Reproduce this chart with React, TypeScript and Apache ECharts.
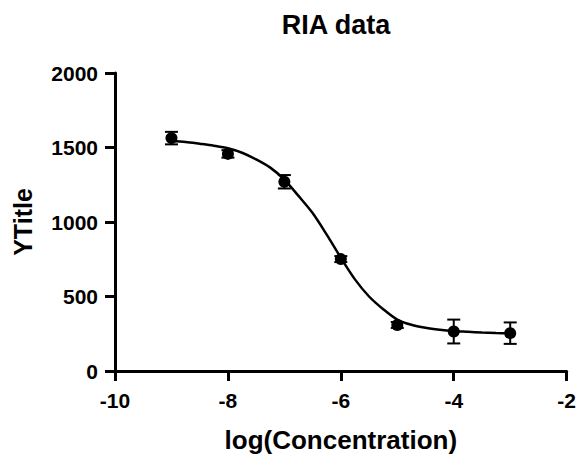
import React, { useEffect, useRef } from "react";
import * as echarts from "echarts";

const pointX = [-9, -8, -7, -6, -5, -4, -3];
const pointY = [1563, 1457, 1270, 751, 309, 265, 254];
const pointErr = [42, 25, 45, 20, 20, 80, 72];

const curveX = [-9, -8.75, -8.5, -8.25, -8, -7.75, -7.5, -7.25, -7, -6.75, -6.5, -6.25, -6, -5.75, -5.5, -5.25, -5, -4.75, -4.5, -4.25, -4, -3.75, -3.5, -3.25, -3];
const curveY = [1543, 1537, 1525, 1512, 1495, 1465, 1420, 1365, 1285, 1175, 1060, 915, 760, 615, 500, 415, 345, 310, 290, 277, 268, 263, 258, 255, 253];

const xTicks = { min: -10, max: -2, interval: 2 };
const yTicks = { min: 0, max: 2000, interval: 500 };

const FONT = "'Liberation Sans', Arial, sans-serif";

export default function App() {
  const ref = useRef<HTMLDivElement>(null);
  useEffect(() => {
    if (!ref.current) return;
    const chart = echarts.init(ref.current, null, { renderer: "svg" });
    const errData = pointX.map((x, i) => [x, pointY[i] - pointErr[i], pointY[i] + pointErr[i]]);
    chart.setOption({
      animation: false,
      backgroundColor: "#fff",
      grid: { left: 115, right: 12, top: 73, bottom: 83 },
      graphic: [
        {
          type: "text",
          x: 336,
          y: 25,
          style: {
            text: "RIA data",
            fontFamily: FONT,
            fontWeight: "bold",
            fontSize: 27,
            fill: "#000",
            textAlign: "center",
            textVerticalAlign: "middle",
          },
        },
      ],
      xAxis: {
        type: "value",
        min: xTicks.min,
        max: xTicks.max,
        interval: xTicks.interval,
        name: "log(Concentration)",
        nameLocation: "middle",
        nameGap: 56,
        nameTextStyle: { fontFamily: FONT, fontWeight: "bold", fontSize: 26, color: "#000" },
        axisLine: { onZero: false, lineStyle: { color: "#000", width: 3 } },
        axisTick: { show: true, length: 10, lineStyle: { color: "#000", width: 3 } },
        axisLabel: { fontFamily: FONT, fontWeight: "bold", fontSize: 21, color: "#000", margin: 19 },
        splitLine: { show: false },
      },
      yAxis: {
        type: "value",
        min: yTicks.min,
        max: yTicks.max,
        interval: yTicks.interval,
        name: "YTitle",
        nameLocation: "middle",
        nameGap: 80,
        nameTextStyle: { fontFamily: FONT, fontWeight: "bold", fontSize: 25, color: "#000" },
        axisLine: { show: true, onZero: false, lineStyle: { color: "#000", width: 3 } },
        axisTick: { show: true, length: 10, lineStyle: { color: "#000", width: 3 } },
        axisLabel: {
          fontFamily: FONT,
          fontWeight: "bold",
          fontSize: 21,
          color: "#000",
          margin: 17,
          formatter: (v: number) => String(v),
        },
        splitLine: { show: false },
      },
      series: [
        {
          type: "line",
          data: curveX.map((x, i) => [x, curveY[i]]),
          smooth: 0.3,
          showSymbol: false,
          lineStyle: { color: "#000", width: 2.5 },
          z: 2,
        },
        {
          type: "custom",
          data: errData,
          z: 3,
          renderItem: (params: any, api: any) => {
            const x = api.value(0);
            const lo = api.coord([x, api.value(1)]);
            const hi = api.coord([x, api.value(2)]);
            const w = 6.5;
            const style = { stroke: "#000", lineWidth: 2 };
            return {
              type: "group",
              children: [
                { type: "line", shape: { x1: lo[0], y1: lo[1], x2: hi[0], y2: hi[1] }, style },
                { type: "line", shape: { x1: lo[0] - w, y1: lo[1], x2: lo[0] + w, y2: lo[1] }, style },
                { type: "line", shape: { x1: hi[0] - w, y1: hi[1], x2: hi[0] + w, y2: hi[1] }, style },
              ],
            };
          },
        },
        {
          type: "scatter",
          data: pointX.map((x, i) => [x, pointY[i]]),
          symbol: "circle",
          symbolSize: 12,
          itemStyle: { color: "#000", opacity: 1 },
          z: 4,
        },
      ],
    });
    return () => chart.dispose();
  }, []);
  return <div ref={ref} style={{ position: "fixed", left: 0, top: 0, width: 579, height: 458 }} />;
}
